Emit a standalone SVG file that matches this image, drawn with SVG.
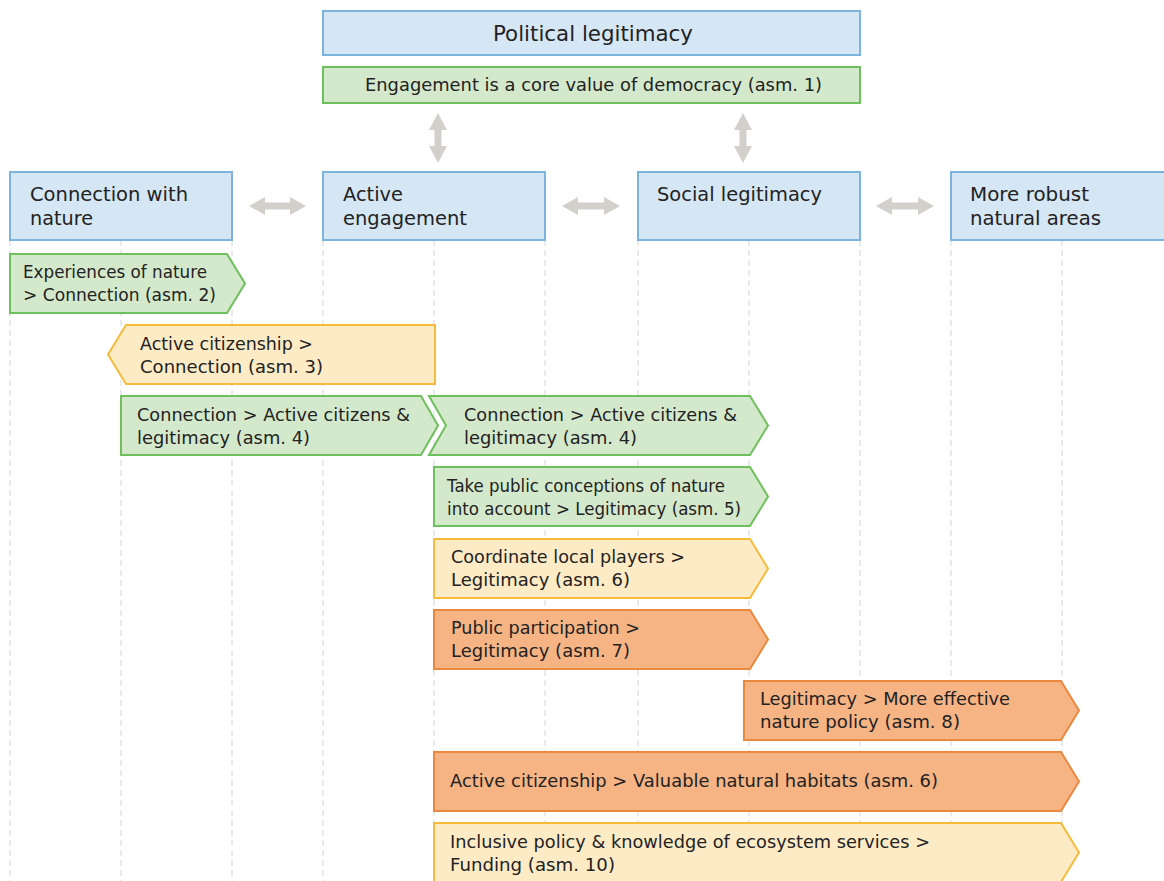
<svg xmlns="http://www.w3.org/2000/svg" width="1164" height="881" viewBox="0 0 1164 881">
<style>
.bg{fill:#ffffff}
.grid{stroke:#d6d6d6;stroke-width:1;stroke-dasharray:6 4;fill:none}
.blue{fill:#d5e6f5;stroke:#7db4de;stroke-width:2}
.green{fill:#d4e9cc;stroke:#6ec05c;stroke-width:2}
.yellow{fill:#fdebc5;stroke:#f6bb3a;stroke-width:2}
.orange{fill:#f6b484;stroke:#eb8840;stroke-width:2}
.arr{fill:#d3d0cb}
text{font-family:"DejaVu Sans","Liberation Sans",sans-serif;fill:#222222}
.h{font-size:19.5px}
.p{font-size:21px}
.t{font-size:17px}
</style>
<rect class="bg" x="0" y="0" width="1164" height="881"/>
<g id="gridlines">
<line class="grid" x1="10" y1="240" x2="10" y2="881"/>
<line class="grid" x1="121" y1="240" x2="121" y2="881"/>
<line class="grid" x1="232" y1="240" x2="232" y2="881"/>
<line class="grid" x1="323" y1="240" x2="323" y2="881"/>
<line class="grid" x1="434" y1="240" x2="434" y2="881"/>
<line class="grid" x1="545" y1="240" x2="545" y2="881"/>
<line class="grid" x1="638" y1="240" x2="638" y2="881"/>
<line class="grid" x1="749" y1="240" x2="749" y2="881"/>
<line class="grid" x1="860" y1="240" x2="860" y2="881"/>
<line class="grid" x1="951" y1="240" x2="951" y2="881"/>
<line class="grid" x1="1062" y1="240" x2="1062" y2="881"/>
</g>
<g id="connectors">
<polygon class="arr" points="438,113 447,130 441.5,130 441.5,146 447,146 438,163 429,146 434.5,146 434.5,130 429,130"/>
<polygon class="arr" points="743,113 752,130 746.5,130 746.5,146 752,146 743,163 734,146 739.5,146 739.5,130 734,130"/>
<polygon class="arr" points="249,206 265,197 265,202.5 290,202.5 290,197 306,206 290,215 290,209.5 265,209.5 265,215"/>
<polygon class="arr" points="562,206 578,197 578,202.5 604,202.5 604,197 620,206 604,215 604,209.5 578,209.5 578,215"/>
<polygon class="arr" points="876,206 892,197 892,202.5 918,202.5 918,197 934,206 918,215 918,209.5 892,209.5 892,215"/>
</g>
<g id="political">
<rect class="blue" x="323" y="11" width="537" height="44"/>
<text class="p" x="493" y="41" textLength="200" lengthAdjust="spacingAndGlyphs">Political legitimacy</text>
</g>
<g id="asm1">
<rect class="green" x="323" y="67" width="537" height="36"/>
<text class="t" x="365" y="91" textLength="457" lengthAdjust="spacingAndGlyphs">Engagement is a core value of democracy (asm. 1)</text>
</g>
<g id="connection">
<rect class="blue" x="10" y="172" width="222" height="68"/>
<text class="h" x="30" y="201" textLength="158" lengthAdjust="spacingAndGlyphs">Connection with</text>
<text class="h" x="30" y="225" textLength="63" lengthAdjust="spacingAndGlyphs">nature</text>
</g>
<g id="active">
<rect class="blue" x="323" y="172" width="222" height="68"/>
<text class="h" x="343" y="201" textLength="60" lengthAdjust="spacingAndGlyphs">Active</text>
<text class="h" x="343" y="225" textLength="124" lengthAdjust="spacingAndGlyphs">engagement</text>
</g>
<g id="social">
<rect class="blue" x="638" y="172" width="222" height="68"/>
<text class="h" x="657" y="201" textLength="165" lengthAdjust="spacingAndGlyphs">Social legitimacy</text>
</g>
<g id="robust">
<rect class="blue" x="951" y="172" width="222" height="68"/>
<text class="h" x="970" y="201" textLength="119" lengthAdjust="spacingAndGlyphs">More robust</text>
<text class="h" x="970" y="225" textLength="131" lengthAdjust="spacingAndGlyphs">natural areas</text>
</g>
<g id="asm2">
<polygon class="green" points="10,254 227,254 245,283.5 227,313 10,313"/>
<text class="t" x="23" y="278" textLength="184" lengthAdjust="spacingAndGlyphs">Experiences of nature</text>
<text class="t" x="23" y="301" textLength="193" lengthAdjust="spacingAndGlyphs">&gt; Connection (asm. 2)</text>
</g>
<g id="asm3">
<polygon class="yellow" points="126,325 435,325 435,384 126,384 108,354.5"/>
<text class="t" x="140" y="350" textLength="173" lengthAdjust="spacingAndGlyphs">Active citizenship &gt;</text>
<text class="t" x="140" y="373" textLength="183" lengthAdjust="spacingAndGlyphs">Connection (asm. 3)</text>
</g>
<g id="asm4a">
<polygon class="green" points="121,396 421,396 438,425.5 421,455 121,455"/>
<text class="t" x="137" y="421" textLength="273" lengthAdjust="spacingAndGlyphs">Connection &gt; Active citizens &amp;</text>
<text class="t" x="137" y="444" textLength="173" lengthAdjust="spacingAndGlyphs">legitimacy (asm. 4)</text>
</g>
<g id="asm4b">
<polygon class="green" points="429,396 750,396 768,425.5 750,455 429,455 446,425.5"/>
<text class="t" x="464" y="421" textLength="273" lengthAdjust="spacingAndGlyphs">Connection &gt; Active citizens &amp;</text>
<text class="t" x="464" y="444" textLength="173" lengthAdjust="spacingAndGlyphs">legitimacy (asm. 4)</text>
</g>
<g id="asm5">
<polygon class="green" points="434,467 750,467 768,496.5 750,526 434,526"/>
<text class="t" x="447" y="492" textLength="278" lengthAdjust="spacingAndGlyphs">Take public conceptions of nature</text>
<text class="t" x="447" y="515" textLength="294" lengthAdjust="spacingAndGlyphs">into account &gt; Legitimacy (asm. 5)</text>
</g>
<g id="asm6">
<polygon class="yellow" points="434,539 750,539 768,568.5 750,598 434,598"/>
<text class="t" x="451" y="563" textLength="234" lengthAdjust="spacingAndGlyphs">Coordinate local players &gt;</text>
<text class="t" x="451" y="586" textLength="179" lengthAdjust="spacingAndGlyphs">Legitimacy (asm. 6)</text>
</g>
<g id="asm7">
<polygon class="orange" points="434,610 750,610 768,639.5 750,669 434,669"/>
<text class="t" x="451" y="634" textLength="189" lengthAdjust="spacingAndGlyphs">Public participation &gt;</text>
<text class="t" x="451" y="657" textLength="179" lengthAdjust="spacingAndGlyphs">Legitimacy (asm. 7)</text>
</g>
<g id="asm8">
<polygon class="orange" points="744,681 1061,681 1079,710.5 1061,740 744,740"/>
<text class="t" x="760" y="705" textLength="250" lengthAdjust="spacingAndGlyphs">Legitimacy &gt; More effective</text>
<text class="t" x="760" y="728" textLength="200" lengthAdjust="spacingAndGlyphs">nature policy (asm. 8)</text>
</g>
<g id="asm6b">
<polygon class="orange" points="434,752 1061,752 1079,781.5 1061,811 434,811"/>
<text class="t" x="450" y="787" textLength="488" lengthAdjust="spacingAndGlyphs">Active citizenship &gt; Valuable natural habitats (asm. 6)</text>
</g>
<g id="asm10">
<polygon class="yellow" points="434,823 1061,823 1079,852.5 1061,882 434,882"/>
<text class="t" x="450" y="848" textLength="480" lengthAdjust="spacingAndGlyphs">Inclusive policy &amp; knowledge of ecosystem services &gt;</text>
<text class="t" x="450" y="871" textLength="165" lengthAdjust="spacingAndGlyphs">Funding (asm. 10)</text>
</g>
</svg>
